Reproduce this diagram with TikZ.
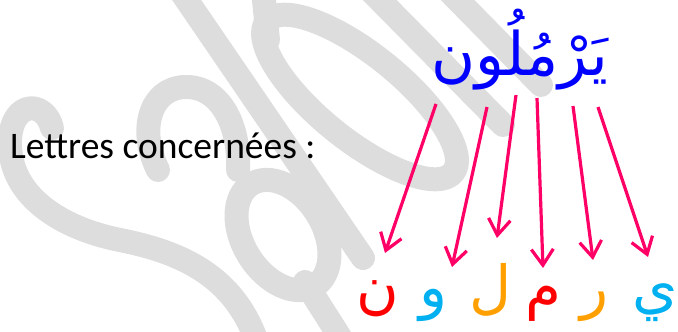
\documentclass[tikz,border=0pt]{standalone}
\usepackage{fontspec}
\setmainfont{Carlito}
\newfontfamily\arabicfont[Script=Arabic]{DejaVu Sans}
\TeXXeTstate=1
\usetikzlibrary{positioning,arrows.meta}
\definecolor{wordblue}{HTML}{0000FF}
\definecolor{arrowpink}{HTML}{FF0066}
\definecolor{letterred}{HTML}{FF0000}
\definecolor{lettercyan}{HTML}{00B0F0}
\definecolor{letterorange}{HTML}{FFA000}
\definecolor{wmgrey}{HTML}{DDDDDD}

\begin{document}
\begin{tikzpicture}[
    x=1pt, y=-1pt,
    wm/.style={draw=wmgrey, line width=24pt, line cap=round, line join=round},
    letter/.style={font=\arabicfont\fontsize{58}{64}\selectfont, inner sep=0pt, anchor=base},
    every edge/.append style={draw=arrowpink, line width=3.2pt, -{Straight Barb[length=16pt,width=22pt]}}
  ]
  \useasboundingbox (0,0) rectangle (678,332);
  % watermark
  \begin{scope}
    \clip (0,0) rectangle (678,332);
    \draw[wm] (52,128) .. controls (45,100) and (12,100) .. (10,140) .. controls (8,195) and (60,228) .. (120,240) .. controls (180,252) and (235,275) .. (258,345);
    \draw[wm] (158,170) .. controls (138,130) and (150,88) .. (185,87) .. controls (220,86) and (240,125) .. (238,170);
    \draw[wm, rotate around={-58:(283,235)}] (283,235) ellipse [x radius=60, y radius=40];
    \draw[wm] (305,282) -- (345,345);
    \draw[wm] (173,-20) -- (363,258);
    \draw[wm] (262,-20) -- (268,40);
    \draw[wm, rotate around={-39:(360,97)}] (360,97) ellipse [x radius=120, y radius=42];
    \draw[wm] (360,-20) -- (503,125);
    \draw[wm] (438,-20) -- (541,85);
  \end{scope}

  \node[anchor=base west, inner sep=0pt, font=\fontsize{37.5}{42}\selectfont] (lbl) at (10,158) {Lettres concernées :};
  \node[letter, text=wordblue, font=\arabicfont\fontsize{60}{66}\selectfont] (word) at (520,75) {\beginR يَرْمُلُون\endR};

  \node[letter, text=letterred] (nun) at (378,307) {ن};
  \node[letter, text=lettercyan] (waw) at (434,307) {و};
  \node[letter, text=letterorange] (lam) at (491,307) {ل};
  \node[letter, text=letterred] (mim) at (543,307) {م};
  \node[letter, text=letterorange] (ra) at (594,307) {ر};
  \node[letter, text=lettercyan] (ya) at (655,307) {ي};

  \coordinate (nun-src) at (436,104);
  \coordinate (waw-src) at (487,107);
  \coordinate (lam-src) at (516,95);
  \coordinate (mim-src) at (537,98);
  \coordinate (ra-src) at (573,106);
  \coordinate (ya-src) at (598,107);
  \coordinate (nun-dst) at (385,253);
  \coordinate (waw-dst) at (452,267);
  \coordinate (lam-dst) at (497,238);
  \coordinate (mim-dst) at (543,268);
  \coordinate (ra-dst) at (593,260);
  \coordinate (ya-dst) at (648,257);

  \draw (nun-src) edge (nun-dst);
  \draw (waw-src) edge (waw-dst);
  \draw (lam-src) edge (lam-dst);
  \draw (mim-src) edge (mim-dst);
  \draw (ra-src) edge (ra-dst);
  \draw (ya-src) edge (ya-dst);
\end{tikzpicture}
\end{document}
